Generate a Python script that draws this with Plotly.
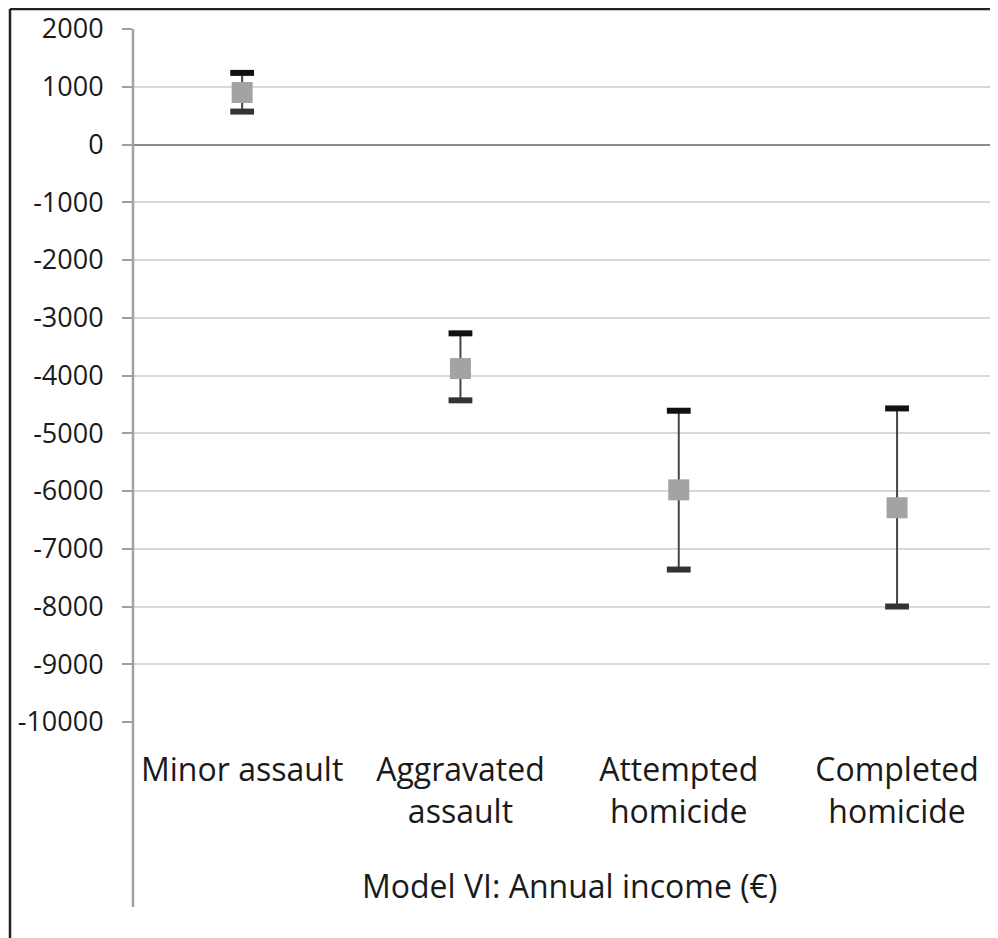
import plotly.graph_objects as go

categories = ["Minor assault", "Aggravated<br>assault", "Attempted<br>homicide", "Completed<br>homicide"]
estimates = [900, -3880, -5980, -6290]
ci_upper = [1240, -3270, -4610, -4570]
ci_lower = [570, -4430, -7360, -8000]
y_ticks = list(range(2000, -10001, -1000))
axis_title = "Model VI: Annual income (€)"

xpos = list(range(len(categories)))

# page has an 8px body margin; figure coordinates = page coordinates - 8
OFF = 8
W, H = 998 - OFF, 938 - OFF
L, T = 133 - OFF, 29 - OFF
PB = 722 - OFF          # plot bottom in figure px
B = H - PB
R = 0
pw = W - L - R
ph = PB - T

def px_x(px):
    return (px - OFF - L) / pw

def px_y(py):
    return (PB - (py - OFF)) / ph

FONT = "Open Sans"
TXT = "#1a1a1a"

fig = go.Figure()

fig.add_trace(go.Scatter(
    x=xpos, y=estimates, mode="markers",
    marker=dict(symbol="square", size=21, color="#a3a3a3", line=dict(width=0)),
    error_y=dict(type="data", symmetric=False,
                 array=[u - e for u, e in zip(ci_upper, estimates)],
                 arrayminus=[e - l for e, l in zip(estimates, ci_lower)],
                 color="#454545", thickness=2, width=0),
    showlegend=False, hoverinfo="skip",
))
fig.add_trace(go.Scatter(
    x=xpos, y=ci_upper, mode="markers",
    marker=dict(symbol="line-ew", size=17, line=dict(width=6, color="#111111")),
    showlegend=False, hoverinfo="skip",
))
fig.add_trace(go.Scatter(
    x=xpos, y=ci_lower, mode="markers",
    marker=dict(symbol="line-ew", size=17, line=dict(width=6, color="#333333")),
    showlegend=False, hoverinfo="skip",
))

shapes = [
    dict(type="line", xref="paper", yref="paper", x0=0, x1=0, y0=px_y(907), y1=1,
         line=dict(color="#a0a0a0", width=2.5)),
    dict(type="line", xref="paper", yref="paper", x0=px_x(10), x1=px_x(10), y0=px_y(945), y1=px_y(9),
         line=dict(color="#222222", width=2.5)),
    dict(type="line", xref="paper", yref="paper", x0=px_x(10), x1=px_x(1005), y0=px_y(9), y1=px_y(9),
         line=dict(color="#222222", width=2.5)),
]

fig.update_layout(
    width=W, height=H,
    margin=dict(l=L, r=R, t=T, b=B, pad=0),
    paper_bgcolor="white", plot_bgcolor="white",
    font=dict(family=FONT, color=TXT),
    shapes=shapes,
    annotations=[dict(text=axis_title, xref="x", yref="paper", x=1.5, y=px_y(885),
                      showarrow=False, font=dict(family=FONT, size=32, color=TXT),
                      xanchor="center", yanchor="middle")],
    xaxis=dict(range=[-0.5, pw / 218.3 - 0.5], tickvals=xpos, ticktext=categories,
               showgrid=False, zeroline=False, showline=False, ticks="",
               tickfont=dict(family=FONT, size=32, color=TXT),
               ticklabelstandoff=26),
    yaxis=dict(range=[-10000, 2000], tickvals=y_ticks, ticktext=[str(v) for v in y_ticks],
               showgrid=True, gridcolor="#d9d9d9", gridwidth=2,
               zeroline=True, zerolinecolor="#8c8c8c", zerolinewidth=2,
               showline=False, ticks="outside", ticklen=10, tickcolor="#a0a0a0", tickwidth=2,
               tickfont=dict(family=FONT, size=27, color=TXT),
               ticklabelstandoff=13),
)

fig.write_html("out.html", config={"displayModeBar": False})
